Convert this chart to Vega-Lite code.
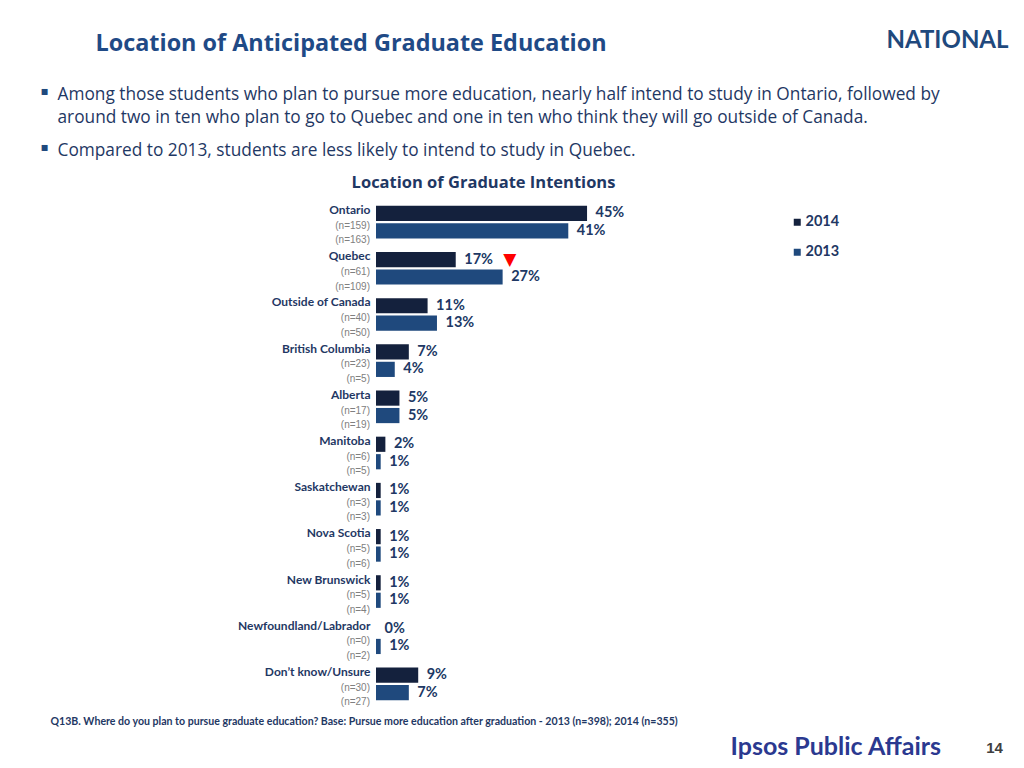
{
  "$schema": "https://vega.github.io/schema/vega-lite/v6.json",
  "width": 469,
  "height": 508,
  "autosize": {"type": "none"},
  "padding": {"left": 376, "top": 199, "right": 179, "bottom": 61},
  "background": "white",
  "config": {
    "view": {"stroke": null},
    "axis": {"grid": false, "domain": false, "ticks": false, "tickSize": 0, "labels": false}
  },
  "data": {
    "values": [
      {"cat": "Ontario", "year": "2014", "pct": 0.45, "n": "(n=159)"},
      {"cat": "Ontario", "year": "2013", "pct": 0.41, "n": "(n=163)"},
      {"cat": "Quebec", "year": "2014", "pct": 0.17, "n": "(n=61)", "sig": "down"},
      {"cat": "Quebec", "year": "2013", "pct": 0.27, "n": "(n=109)"},
      {"cat": "Outside of Canada", "year": "2014", "pct": 0.11, "n": "(n=40)"},
      {"cat": "Outside of Canada", "year": "2013", "pct": 0.13, "n": "(n=50)"},
      {"cat": "British Columbia", "year": "2014", "pct": 0.07, "n": "(n=23)"},
      {"cat": "British Columbia", "year": "2013", "pct": 0.04, "n": "(n=5)"},
      {"cat": "Alberta", "year": "2014", "pct": 0.05, "n": "(n=17)"},
      {"cat": "Alberta", "year": "2013", "pct": 0.05, "n": "(n=19)"},
      {"cat": "Manitoba", "year": "2014", "pct": 0.02, "n": "(n=6)"},
      {"cat": "Manitoba", "year": "2013", "pct": 0.01, "n": "(n=5)"},
      {"cat": "Saskatchewan", "year": "2014", "pct": 0.01, "n": "(n=3)"},
      {"cat": "Saskatchewan", "year": "2013", "pct": 0.01, "n": "(n=3)"},
      {"cat": "Nova Scotia", "year": "2014", "pct": 0.01, "n": "(n=5)"},
      {"cat": "Nova Scotia", "year": "2013", "pct": 0.01, "n": "(n=6)"},
      {"cat": "New Brunswick", "year": "2014", "pct": 0.01, "n": "(n=5)"},
      {"cat": "New Brunswick", "year": "2013", "pct": 0.01, "n": "(n=4)"},
      {"cat": "Newfoundland/Labrador", "year": "2014", "pct": 0.0, "n": "(n=0)"},
      {"cat": "Newfoundland/Labrador", "year": "2013", "pct": 0.01, "n": "(n=2)"},
      {"cat": "Don’t know/Unsure", "year": "2014", "pct": 0.09, "n": "(n=30)"},
      {"cat": "Don’t know/Unsure", "year": "2013", "pct": 0.07, "n": "(n=27)"}
    ]
  },
  "resolve": {"axis": {"x": "independent", "y": "independent"}},
  "layer": [
    {
      "mark": {"type": "bar"},
      "encoding": {
        "x": {
          "field": "pct", "type": "quantitative",
          "scale": {"domain": [0, 1], "nice": false, "zero": true},
          "axis": {
            "orient": "bottom",
            "title": "Q13B. Where do you plan to pursue graduate education? Base: Pursue more education after graduation -  2013 (n=398); 2014 (n=355)",
            "titleX": -326, "titleY": 14, "titleAlign": "left", "titleAnchor": "start", "titleBaseline": "middle",
            "titleFont": "Lato", "titleFontWeight": "bold", "titleFontSize": 10.6, "titleColor": "#1f3864"
          }
        },
        "y": {
          "field": "cat", "type": "nominal", "sort": null,
          "scale": {"paddingInner": 0.293, "paddingOuter": 0.1465},
          "axis": {
            "orient": "left", "labels": true, "labelPadding": 6, "labelOffset": -12,
            "labelAlign": "right", "labelBaseline": "middle",
            "labelFont": "Lato", "labelFontWeight": "bold", "labelFontSize": 12, "labelColor": "#1f3864", "labelLimit": 300,
            "title": "Compared to 2013, students are less likely to intend to study in Quebec.",
            "titleAngle": 0, "titleX": -319, "titleY": -49, "titleAlign": "left", "titleAnchor": "start", "titleBaseline": "middle",
            "titleFont": "Open Sans", "titleFontWeight": "normal", "titleFontSize": 17.3, "titleColor": "#1f3864"
          }
        },
        "yOffset": {
          "field": "year", "type": "nominal",
          "scale": {"domain": ["2014", "2013"], "paddingInner": 0.13, "paddingOuter": 0}
        },
        "color": {
          "field": "year", "type": "nominal",
          "scale": {"domain": ["2014", "2013"], "range": ["#14213d", "#1f497d"]},
          "legend": {
            "orient": "none", "legendX": 414, "legendY": 16, "title": null,
            "symbolType": "square", "symbolSize": 49, "symbolStrokeWidth": 0,
            "labelFont": "Lato", "labelFontWeight": "bold", "labelFontSize": 14.5, "labelColor": "#1f3864",
            "labelOffset": 1, "rowPadding": 15, "padding": 0
          }
        }
      }
    },
    {
      "mark": {"type": "text", "align": "left", "baseline": "middle", "dx": 8.5, "font": "Lato", "fontWeight": "bold", "fontSize": 14.5, "color": "#203864"},
      "encoding": {
        "x": {
          "field": "pct", "type": "quantitative",
          "axis": {
            "orient": "top",
            "title": "Location of Graduate Intentions",
            "titleX": 107, "titleY": -17, "titleAlign": "center", "titleAnchor": "middle", "titleBaseline": "middle",
            "titleFont": "Open Sans", "titleFontWeight": "bold", "titleFontSize": 16.5, "titleColor": "#1f3864"
          }
        },
        "y": {
          "field": "cat", "type": "nominal", "sort": null,
          "axis": {
            "orient": "right", "title": "NATIONAL",
            "titleAngle": 0, "titleX": 41, "titleY": -159, "titleAlign": "left", "titleAnchor": "start", "titleBaseline": "middle",
            "titleFont": "Lato", "titleFontWeight": "bold", "titleFontSize": 24, "titleColor": "#1f497d"
          }
        },
        "yOffset": {"field": "year", "type": "nominal"},
        "text": {"field": "pct", "type": "quantitative", "format": ".0%"}
      }
    },
    {
      "transform": [{"filter": "datum.year === '2014'"}],
      "mark": {"type": "text", "align": "right", "baseline": "middle", "dx": -6, "dy": 12.5, "font": "Liberation Sans", "fontSize": 10, "color": "#808080"},
      "encoding": {
        "x": {
          "datum": 0, "type": "quantitative",
          "axis": {
            "orient": "bottom", "title": "Ipsos Public Affairs",
            "titleX": 354, "titleY": 39, "titleAlign": "left", "titleAnchor": "start", "titleBaseline": "middle",
            "titleFont": "Lato", "titleFontWeight": "bold", "titleFontSize": 25, "titleColor": "#2b3990"
          }
        },
        "y": {
          "field": "cat", "type": "nominal", "sort": null,
          "axis": {
            "orient": "right", "title": "14",
            "titleAngle": 0, "titleX": 149, "titleY": 548, "titleAlign": "center", "titleAnchor": "middle", "titleBaseline": "middle",
            "titleFont": "Liberation Sans", "titleFontWeight": "bold", "titleFontSize": 15, "titleColor": "#404040"
          }
        },
        "yOffset": {"field": "year", "type": "nominal"},
        "text": {"field": "n", "type": "nominal"}
      }
    },
    {
      "transform": [{"filter": "datum.year === '2013'"}],
      "mark": {"type": "text", "align": "right", "baseline": "middle", "dx": -6, "dy": 9.5, "font": "Liberation Sans", "fontSize": 10, "color": "#808080"},
      "encoding": {
        "x": {
          "datum": 0, "type": "quantitative",
          "axis": {
            "orient": "top", "title": "Location of Anticipated Graduate Education",
            "titleX": -281, "titleY": -156, "titleAlign": "left", "titleAnchor": "start", "titleBaseline": "middle",
            "titleFont": "Open Sans", "titleFontWeight": "bold", "titleFontSize": 23.4, "titleColor": "#1f4a86"
          }
        },
        "y": {
          "field": "cat", "type": "nominal", "sort": null,
          "axis": {
            "orient": "left",
            "title": ["Among those students who plan to pursue more education, nearly half intend to study in Ontario, followed by", "around two in ten who plan to go to Quebec and one in ten who think they will go outside of Canada."],
            "titleLineHeight": 23,
            "titleAngle": 0, "titleX": -319, "titleY": -105, "titleAlign": "left", "titleAnchor": "start", "titleBaseline": "middle",
            "titleFont": "Open Sans", "titleFontWeight": "normal", "titleFontSize": 17.3, "titleColor": "#1f3864"
          }
        },
        "yOffset": {"field": "year", "type": "nominal"},
        "text": {"field": "n", "type": "nominal"}
      }
    },
    {
      "transform": [{"filter": "datum.sig === 'down'"}],
      "mark": {"type": "text", "align": "center", "baseline": "middle", "dx": 54, "font": "DejaVu Sans", "fontSize": 17, "color": "#ff0000"},
      "encoding": {
        "x": {"field": "pct", "type": "quantitative", "axis": null},
        "y": {
          "field": "cat", "type": "nominal", "sort": null,
          "axis": {
            "orient": "left", "title": ["▪", "▪"], "titleLineHeight": 56,
            "titleAngle": 0, "titleX": -336, "titleY": -109, "titleAlign": "left", "titleAnchor": "start", "titleBaseline": "middle",
            "titleFont": "DejaVu Sans", "titleFontSize": 12, "titleColor": "#1f497d"
          }
        },
        "yOffset": {"field": "year", "type": "nominal"},
        "text": {"value": "▼"}
      }
    }
  ]
}
